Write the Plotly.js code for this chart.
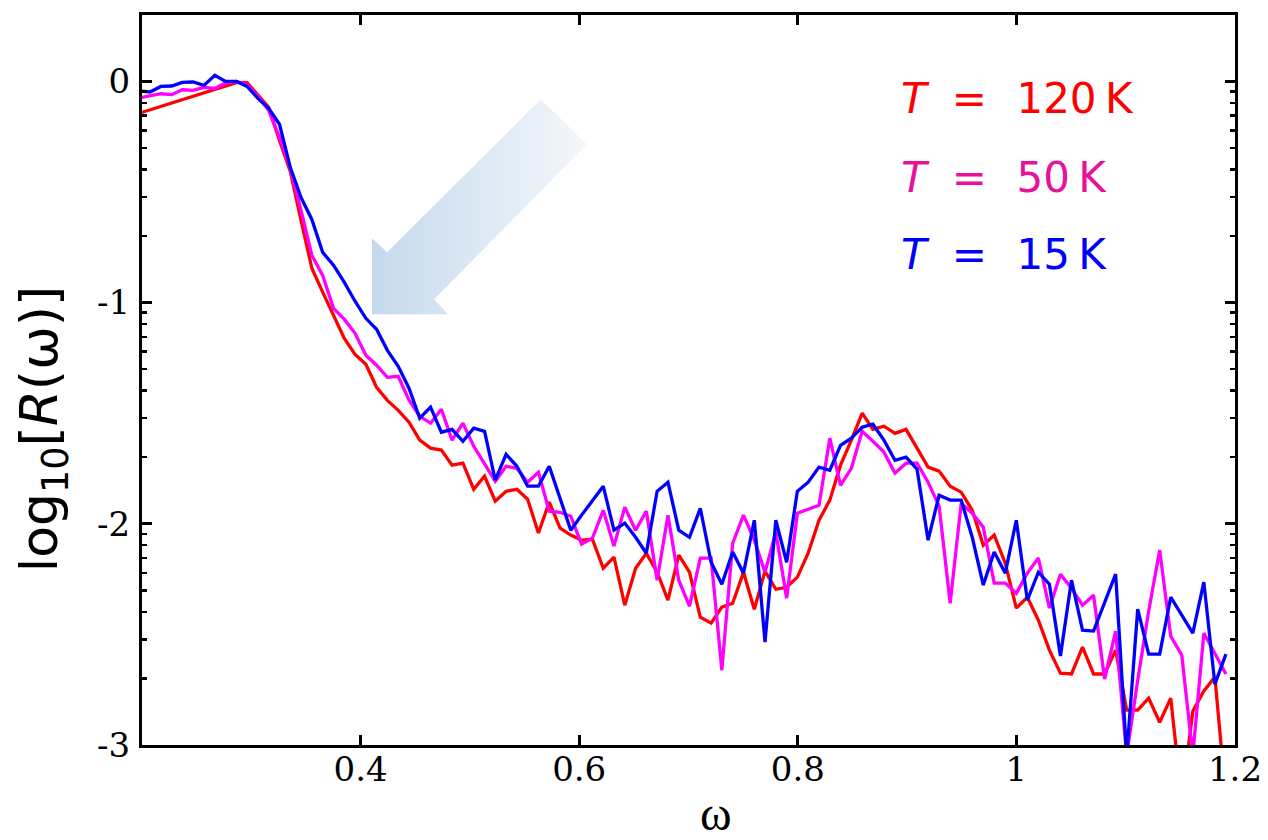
<!DOCTYPE html>
<html><head><meta charset="utf-8">
<script src="https://cdn.plot.ly/plotly-3.0.1.min.js"></script>
<style>html,body{margin:0;padding:0;background:#fff}</style>
</head><body><div id="chart" style="width:1268px;height:840px"></div>
<script>
// photon energy grid (omega)
const omega = [
0.1975,0.2073,0.2172,0.2271,0.2369,0.2468,0.2567,0.2666,0.2764,0.2863,0.2962,
0.3060,0.3159,0.3258,0.3357,0.3455,0.3554,0.3653,0.3752,0.3850,0.3949,
0.4048,0.4146,0.4245,0.4344,0.4443,0.4541,0.4640,0.4739,0.4837,0.4936,
0.5035,0.5134,0.5232,0.5331,0.5430,0.5528,0.5627,0.5726,0.5825,0.5923,
0.6022,0.6121,0.6220,0.6318,0.6417,0.6516,0.6614,0.6713,0.6812,0.6911,
0.7009,0.7108,0.7207,0.7305,0.7404,0.7503,0.7602,0.7700,0.7799,0.7898,
0.7996,0.8095,0.8194,0.8293,0.8391,0.8490,0.8589,0.8687,0.8788,0.8889,
0.8990,0.9091,0.9192,0.9293,0.9394,0.9495,0.9596,0.9697,0.9797,0.9898,
0.9999,1.0100,1.0201,1.0302,1.0403,1.0504,1.0605,1.0706,1.0807,1.0908,
1.1009,1.1110,1.1210,1.1311,1.1412,1.1513,1.1614,1.1715,1.1816,1.1917];

const logR_120K = [
-0.144,-0.129,-0.113,-0.098,-0.083,-0.067,-0.052,-0.037,-0.022,-0.006,-0.006,
-0.063,-0.117,-0.267,-0.407,-0.628,-0.845,-0.953,-1.057,-1.161,-1.234,
-1.279,-1.383,-1.442,-1.487,-1.541,-1.622,-1.658,-1.667,-1.735,-1.726,
-1.844,-1.785,-1.898,-1.853,-1.844,-1.889,-2.042,-1.902,-2.020,-2.051,
-2.074,-2.070,-2.201,-2.151,-2.368,-2.201,-2.133,-2.219,-2.345,-2.142,
-2.219,-2.422,-2.449,-2.377,-2.359,-2.219,-2.386,-2.214,-2.296,-2.287,
-2.241,-2.133,-1.984,-1.893,-1.735,-1.622,-1.500,-1.573,-1.559,-1.591,
-1.573,-1.658,-1.744,-1.762,-1.830,-1.857,-1.939,-2.097,-2.051,-2.178,
-2.381,-2.332,-2.436,-2.571,-2.675,-2.679,-2.558,-2.679,-2.679,-2.571,
-2.842,-2.842,-2.788,-2.897,-2.788,-3.249,-2.847,-2.756,-2.693,-3.240];

const logR_50K = [
-0.075,-0.066,-0.056,-0.060,-0.038,-0.041,-0.027,-0.032,-0.007,0.000,-0.014,
-0.068,-0.131,-0.253,-0.393,-0.583,-0.786,-0.877,-1.026,-1.075,-1.139,
-1.238,-1.283,-1.338,-1.333,-1.441,-1.514,-1.545,-1.482,-1.622,-1.545,
-1.649,-1.731,-1.808,-1.740,-1.749,-1.812,-1.767,-1.943,-1.948,-1.966,
-2.092,-2.065,-1.939,-2.101,-1.925,-2.029,-1.943,-2.255,-1.961,-2.255,
-2.372,-2.155,-2.155,-2.662,-2.088,-1.961,-2.074,-2.219,-2.038,-2.336,
-1.952,-1.934,-1.916,-1.613,-1.826,-1.749,-1.582,-1.627,-1.676,-1.771,
-1.726,-1.726,-1.812,-1.920,-2.359,-1.907,-1.952,-2.015,-2.268,-2.268,
-2.314,-2.223,-2.155,-2.381,-2.228,-2.291,-2.368,-2.323,-2.702,-2.485,
-3.046,-2.707,-2.395,-2.119,-2.508,-2.594,-3.046,-2.494,-2.585,-2.679];

const logR_15K = [
-0.043,-0.048,-0.023,-0.021,-0.005,-0.003,-0.018,0.027,0.000,0.000,-0.023,
-0.077,-0.122,-0.194,-0.390,-0.525,-0.624,-0.773,-0.831,-0.908,-0.994,
-1.071,-1.121,-1.216,-1.288,-1.387,-1.523,-1.473,-1.586,-1.573,-1.627,
-1.568,-1.582,-1.803,-1.686,-1.740,-1.830,-1.830,-1.740,-1.884,-2.029,
-1.961,-1.893,-1.830,-2.029,-1.997,-2.061,-2.133,-1.853,-1.812,-2.029,
-2.061,-1.930,-2.174,-2.273,-2.128,-2.223,-1.984,-2.535,-1.984,-2.174,
-1.853,-1.812,-1.744,-1.758,-1.645,-1.613,-1.563,-1.550,-1.622,-1.713,
-1.699,-1.753,-2.074,-1.871,-1.893,-1.893,-2.061,-2.277,-2.128,-2.223,
-1.984,-2.345,-2.219,-2.273,-2.598,-2.255,-2.481,-2.485,-2.359,-2.228,
-3.050,-2.386,-2.589,-2.589,-2.332,-2.413,-2.494,-2.264,-2.725,-2.589];

const seriesLabels = ['120', '50', '15'];
const lineColors = ['#ff0000', '#ff00ff', '#0000ff'];
const labelColors = ['#ff0000', '#e6139a', '#0000ff'];

const xTickVals = [0.4, 0.6, 0.8, 1, 1.2];
const xTickText = ['0.4', '0.6', '0.8', '1', '1.2'];
const yTickVals = [-3, -2, -1, 0];
const yTickText = ['-3', '-2', '-1', '0'];

// decorative arrow outline (in axis units)
const arrowOmega = [0.5650, 0.6071, 0.4672, 0.4800, 0.4104, 0.4104, 0.4242, 0.5650];
const arrowLogR  = [-0.0813, -0.2847, -0.9851, -1.0529, -1.0529, -0.7094, -0.7727, -0.0813];

// log-decade minor ticks (2..9 x 10^k)
const minorVals = [];
for (let dec = -3; dec <= -1; dec++) {
  for (let n = 2; n <= 9; n++) minorVals.push(dec + Math.log10(n));
}

const traces = [{
  x: arrowOmega, y: arrowLogR, mode: 'lines', fill: 'toself',
  line: {width: 0, color: 'rgba(0,0,0,0)'},
  fillcolor: '#dbe7f3',
  fillgradient: {type: 'horizontal', colorscale: [[0, '#c5d9ed'], [1, '#f3f7fb']]},
  hoverinfo: 'skip', showlegend: false
}];
const ys = [logR_120K, logR_50K, logR_15K];
ys.forEach((y, i) => {
  traces.push({
    x: omega, y: y, mode: 'lines', name: 'T = ' + seriesLabels[i] + ' K',
    line: {color: lineColors[i], width: 3.3}, showlegend: false
  });
});

const annotations = seriesLabels.map((lab, i) => ({
  xref: 'paper', yref: 'paper', x: 0.693, y: [0.885, 0.777, 0.672][i],
  xanchor: 'left', yanchor: 'middle', showarrow: false,
  text: '<i>T</i>\u2002\u200A=\u2002\u2009' + lab + '\u2009K',
  font: {family: 'DejaVu Sans', size: 42, color: labelColors[i]}
}));
annotations.push({
  xref: 'paper', yref: 'paper', x: -0.091, y: 0.432, textangle: -90,
  xanchor: 'center', yanchor: 'middle', showarrow: false,
  text: 'log<sub>10</sub>[<i>R</i>(ω)]',
  font: {family: 'DejaVu Sans', size: 52, color: '#000'}
});
annotations.push({
  xref: 'paper', yref: 'paper', x: 0.525, y: -0.133,
  xanchor: 'center', yanchor: 'bottom', showarrow: false,
  text: 'ω',
  font: {family: 'Liberation Serif', size: 48, color: '#000'}
});

const axisCommon = {
  showline: true, linecolor: '#000', linewidth: 3, mirror: 'ticks',
  ticks: 'inside', ticklen: 10, tickwidth: 3, tickcolor: '#000',
  showgrid: false, zeroline: false,
  tickfont: {family: 'DejaVu Serif', size: 34, color: '#000'}
};

const layout = {
  width: 1268, height: 840, autosize: false,
  paper_bgcolor: '#fff', plot_bgcolor: '#fff',
  margin: {l: 142, r: 33, t: 15, b: 95, pad: 0},
  showlegend: false,
  xaxis: Object.assign({}, axisCommon, {
    range: [0.2, 1.2], tickmode: 'array', tickvals: xTickVals, ticktext: xTickText,
    ticklabelstandoff: -8
  }),
  yaxis: Object.assign({}, axisCommon, {
    range: [-3, 0.3], tickmode: 'array', tickvals: yTickVals, ticktext: yTickText,
    ticklabelstandoff: 2,
    minor: {tickmode: 'array', tickvals: minorVals, ticks: 'inside', ticklen: 5, tickwidth: 2.5, tickcolor: '#000'}
  }),
  annotations: annotations
};

Plotly.newPlot('chart', traces, layout, {staticPlot: true, displayModeBar: false});
</script>
</body></html>
